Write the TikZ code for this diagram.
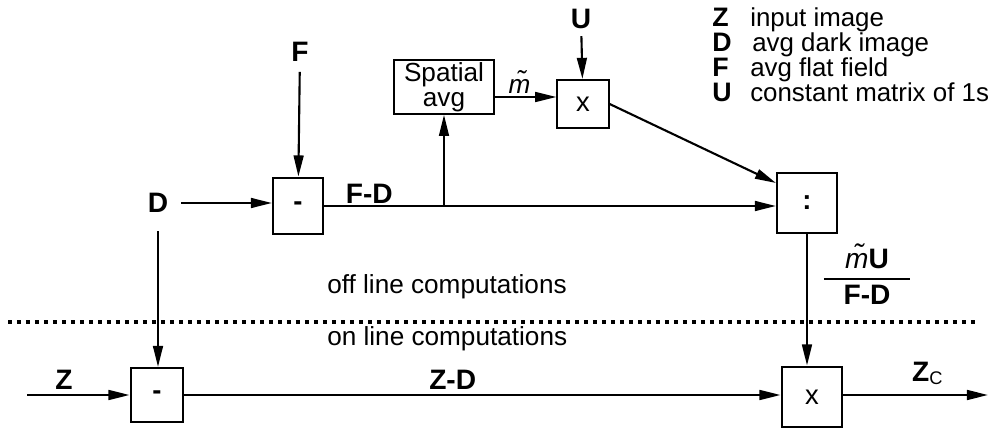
\documentclass[tikz,border=0pt]{standalone}
\usepackage{fontspec}
\setmainfont{Liberation Sans}
\usepackage{amsmath}
\usetikzlibrary{arrows.meta, positioning, calc}
\tikzset{
    opbox/.style={
        rectangle, draw, line width=1.5pt,
        inner sep=0pt, font=\fontsize{19.5}{20}\selectfont
    },
    sym/.style={font=\fontsize{20}{20}\selectfont\bfseries, inner sep=1pt},
    note/.style={font=\fontsize{18.6}{20}\selectfont, inner sep=0pt},
    key/.style={font=\fontsize{19}{19}\selectfont\bfseries, inner sep=0pt, anchor=base west},
    keytext/.style={font=\fontsize{18.4}{19}\selectfont, inner sep=0pt, anchor=base west},
    line/.style={draw, line width=1.5pt},
    arrow/.style={line width=1.5pt, -{Triangle[length=15pt, width=7pt]}},
    sep/.style={line width=2.6pt, dash pattern=on 2.6pt off 3.8pt}
}

\begin{document}
\begin{tikzpicture}[x=0.025cm, y=-0.025cm]
        \useasboundingbox (0,0) rectangle (996,433);

        % operations
        \node (SubTop) [opbox, minimum width=1.25cm, minimum height=1.42cm] at (298,206) {\textbf{-}};
        \node (Avg) [opbox, minimum width=2.5cm, minimum height=1.34cm, align=center, font=\fontsize{18.6}{18}\selectfont] at (444,87) {Spatial\\avg};
        \node (MulTop) [opbox, minimum width=1.28cm, minimum height=1.2cm] at (583,104) {x};
        \node (Div) [opbox, minimum width=1.5cm, minimum height=1.48cm] at (807,203) {\textbf{:}};
        \node (SubBot) [opbox, minimum width=1.32cm, minimum height=1.35cm] at (157,395) {\textbf{-}};
        \node (MulBot) [opbox, minimum width=1.52cm, minimum height=1.52cm] at (812,397) {x};

        % inputs
        \node (F) [sym] at (300,52) {F};
        \node (D) [sym] at (158,203) {D};
        \node (U) [sym] at (581,19) {U};
        \coordinate (Zin) at (27,395);
        \coordinate (Zout) at (988,395);
        \coordinate (Split) at (444,206);

        \draw[arrow, shorten <=6pt] (F) -- (SubTop);
        \draw[arrow, shorten <=8pt] (D) -- (D -| SubTop.west);
        \draw[arrow] (SubTop.east) -- node[sym, above, pos=0.1]{F-D} (SubTop.east -| Div.west);
        \draw[arrow] (Split) -- (Avg);
        \draw[arrow] ($(Avg.east)+(0,10)$) -- node[note, above=2pt, pos=0.4]{\itshape\~{m}} ($(MulTop.west)+(0,-7)$);
        \draw[arrow, shorten <=4pt] (U) -- (MulTop);
        \draw[arrow] (MulTop.east) -- ($(Div.west)+(0,-20)$);
        \draw[arrow] (Div) -- (Div |- MulBot.north);
        \node (Ratio) [note] at (867,274) {$\genfrac{}{}{1.2pt}{0}{\makebox[2.15cm]{{\fontsize{20}{20}\selectfont\itshape\~{m}}{\fontsize{20}{20}\selectfont\bfseries U}}}{\text{\fontsize{20}{20}\selectfont\bfseries F-D}}$};

        \draw[arrow] (Zin) -- node[sym, above=2pt, pos=0.36]{Z} (SubBot);
        \draw[arrow, shorten <=12pt] (D) -- (D |- SubBot.north);
        \draw[arrow] (SubBot.east) -- node[sym, above=2pt, pos=0.45]{Z-D} (SubBot.east -| MulBot.west);
        \draw[arrow] (MulBot.east |- Zout) -- node[above=3pt, pos=0.58]{{\fontsize{20}{20}\selectfont\bfseries Z}\raisebox{-0.4ex}{\fontsize{13}{14}\selectfont C}} (Zout);

        % separation of the two stages
        \draw[sep] (8,322) -- (975,322);
        \node (Off) [note, anchor=base west] at (327,293) {off line computations};
        \node (On) [note, anchor=base west] at (327,345) {on line computations};

        % legend
        \node (KeyZ) [key] at (712,27) {Z};
        \node (KeyD) [key] at (712,52) {D};
        \node (KeyF) [key] at (712,77) {F};
        \node (KeyU) [key] at (712,102) {U};
        \node (TxtZ) [keytext] at (750,27) {input image};
        \node (TxtD) [keytext] at (752,52) {avg dark image};
        \node (TxtF) [keytext] at (750,77) {avg flat field};
        \node (TxtU) [keytext] at (750,102) {constant matrix of 1s};
    \end{tikzpicture}
\end{document}
